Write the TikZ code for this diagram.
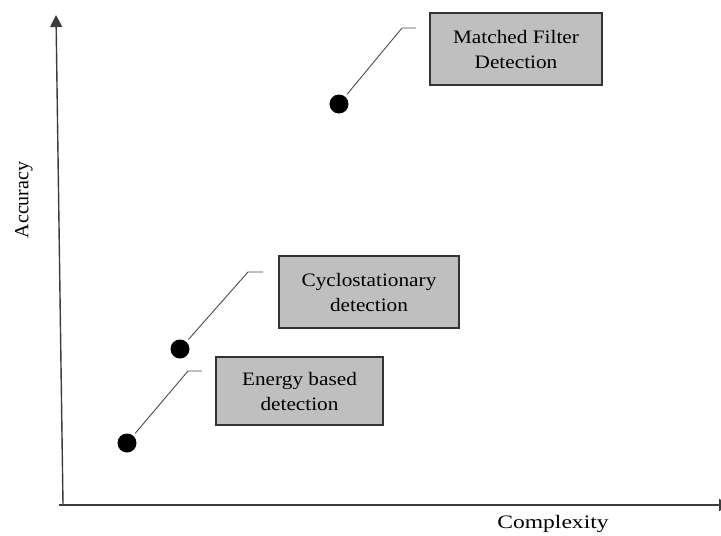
\documentclass[tikz,border=0pt]{standalone}
\usepackage{fontspec}
\usepackage{graphicx}
\setmainfont{Liberation Serif}
\usetikzlibrary{arrows.meta}
\definecolor{boxgray}{RGB}{191,191,191}
\definecolor{axisgray}{RGB}{60,60,60}
% slightly widened lettering
\newcommand{\wideline}[1]{\scalebox{1.12}[1]{#1}}
\tikzset{
  axisline/.style={draw=axisgray, line width=1.4pt, -{Triangle[width=12pt,length=12pt]}},
  method/.style={draw=black!80, line width=1.1pt, fill=boxgray, align=center,
    inner sep=0pt, font=\fontsize{19}{25}\selectfont},
  point/.style={circle, fill=black, inner sep=0pt, minimum size=19pt},
  leader/.style={draw=black!70, line width=0.9pt},
  axislabel/.style={font=\fontsize{20}{22}\selectfont}
}
\begin{document}
\begin{tikzpicture}[x=1pt, y=-1pt]
\useasboundingbox (0,0) rectangle (721,536);
\clip (0,0) rectangle (721,536);
% axes
\coordinate (origin) at (63,505);
\coordinate (ytop) at (56,15);
\coordinate (xstart) at (59,505);
\coordinate (xend) at (731,505);
\draw[axisline] (origin) -- (ytop);
\draw[axisline] (xstart) -- (xend);
\node[axislabel, rotate=90] (ylab) at (24,200) {Accuracy};
\node[font=\fontsize{19}{22}\selectfont] (xlab) at (553,524) {\scalebox{1.24}[1]{Complexity}};
% methods
\node[method, minimum width=172pt, minimum height=72pt] (mf) at (516,49)
  {\wideline{Matched Filter}\\\wideline{Detection}};
\node[method, minimum width=180pt, minimum height=72pt] (cy) at (369,292)
  {\wideline{Cyclostationary}\\\wideline{detection}};
\node[method, minimum width=167pt, minimum height=68pt] (en) at (299.5,391)
  {\wideline{Energy based}\\\wideline{detection}};
% points
\node[point] (pmf) at (339,104) {};
\node[point] (pcy) at (180,349) {};
\node[point] (pen) at (127,443) {};
% leaders
\coordinate (bmf) at (402,28);  \coordinate (emf) at (416,28);
\coordinate (bcy) at (248,272); \coordinate (ecy) at (263,272);
\coordinate (ben) at (188,371); \coordinate (een) at (202,371);
\draw[leader, shorten <=3pt] (pmf) -- (bmf) -- (emf);
\draw[leader, shorten <=3pt] (pcy) -- (bcy) -- (ecy);
\draw[leader, shorten <=3pt] (pen) -- (ben) -- (een);
\end{tikzpicture}
\end{document}
